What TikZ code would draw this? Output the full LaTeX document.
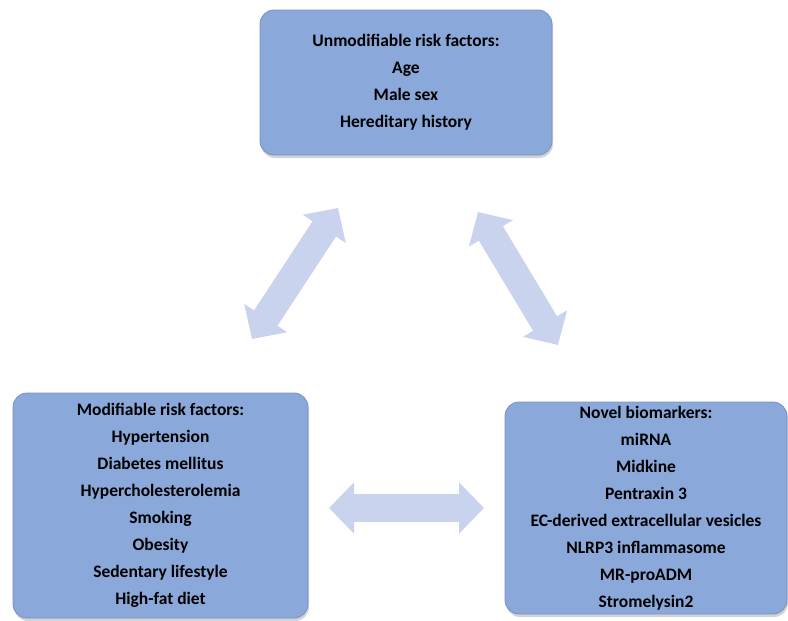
\documentclass[tikz,border=0pt]{standalone}
\usepackage{fontspec}
\setmainfont{Carlito}
\usetikzlibrary{arrows.meta,shadows}

\definecolor{boxblue}{RGB}{139,168,218}
\definecolor{boxedge}{RGB}{118,146,198}
\definecolor{arrowblue}{RGB}{201,211,238}

\tikzset{
	riskbox/.style={draw=boxedge, fill=boxblue, rounded corners=14pt, line width=0.8pt,
		align=center, inner sep=0pt, font=\bfseries\fontsize{17.5}{27}\selectfont,
		drop shadow={shadow xshift=1pt, shadow yshift=-3pt, opacity=0.35}},
	bigarrow/.style={draw=arrowblue, line width=28pt,
		{Triangle[length=25pt, width=50pt]}-{Triangle[length=25pt, width=50pt]}}
}

\begin{document}
\begin{tikzpicture}[x=1pt, y=-1pt]
			\useasboundingbox (0, 0) rectangle (788, 621);
			% the three boxes
			\node[riskbox, minimum width=292pt, minimum height=145pt] (unmod) at (406, 82.5)
				{Unmodifiable risk factors:\\Age\\Male sex\\Hereditary history};
			\node[riskbox, minimum width=295pt, minimum height=225pt] (mod) at (160.5, 505.5)
				{Modifiable risk factors:\\Hypertension\\Diabetes mellitus\\Hypercholesterolemia\\Smoking\\Obesity\\Sedentary lifestyle\\High-fat diet};
			\node[riskbox, minimum width=282pt, minimum height=212pt] (novel) at (646, 508)
				{Novel biomarkers:\\miRNA\\Midkine\\Pentraxin 3\\EC-derived extracellular vesicles\\NLRP3 inflammasome\\MR-proADM\\Stromelysin2};
			% arrow ends
			\coordinate (ml) at (252, 339);
			\coordinate (mu) at (338, 208);
			\coordinate (nu) at (478, 212);
			\coordinate (nl) at (558, 345);
			\coordinate (hl) at (329, 508);
			\coordinate (hr) at (484, 508);
			\draw[bigarrow] (ml) -- (mu);
			\draw[bigarrow] (nu) -- (nl);
			\draw[bigarrow] (hl) -- (hr);
		\end{tikzpicture}
\end{document}
